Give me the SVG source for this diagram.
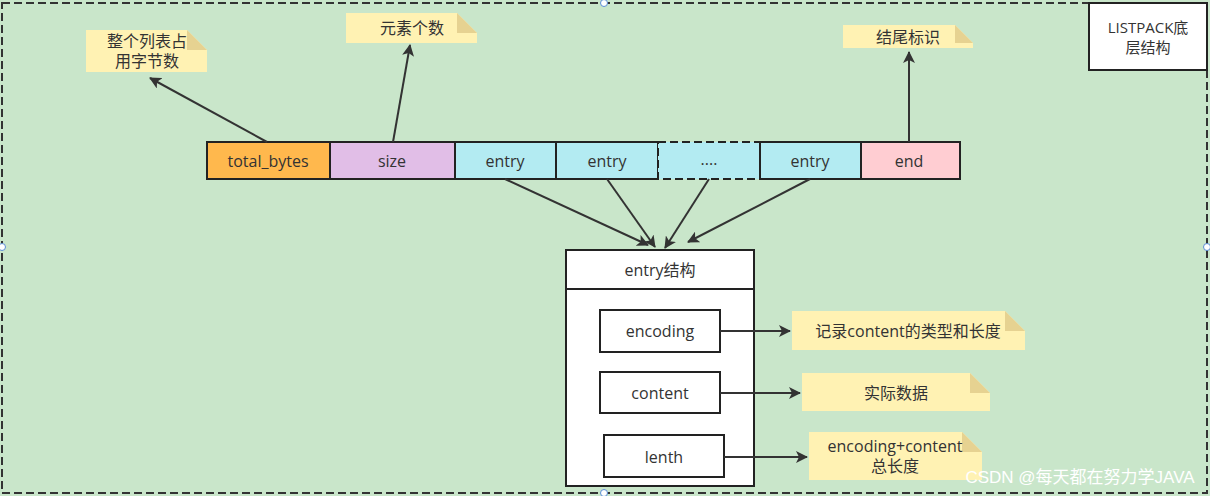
<svg xmlns="http://www.w3.org/2000/svg" width="1210" height="496" viewBox="0 0 1210 496">
<defs>
<marker id="ah" markerWidth="12" markerHeight="12" refX="11" refY="6" orient="auto" markerUnits="userSpaceOnUse"><path d="M0,0 L12,6 L0,12 L3,6 Z" fill="#333"/></marker>
<style>
text{font-family:"Open Sans","Noto Sans CJK SC",sans-serif;font-size:16px;fill:#333;text-anchor:middle;dominant-baseline:central}
.cell{stroke:#222;stroke-width:2}
.note{fill:#FFF2B3}
.fold{fill:#E6D291}
.box{fill:#fff;stroke:#222;stroke-width:2}
.ln{stroke:#333;stroke-width:2;fill:none;marker-end:url(#ah)}
.h{fill:#fff;stroke:#5B8DD6;stroke-width:1}
</style>
</defs>
<rect x="0" y="0" width="1210" height="496" fill="#C9E6CA"/>
<rect x="2" y="3" width="1205" height="490" fill="none" stroke="#333" stroke-width="2" stroke-dasharray="8,4"/>
<circle class="h" cx="604" cy="3" r="3.5"/><circle class="h" cx="2" cy="247" r="3.5"/><circle class="h" cx="1207" cy="247" r="3.5"/><circle class="h" cx="604" cy="493" r="3.5"/>
<g id="title"><rect x="1089" y="3" width="118" height="67" fill="#fff" stroke="#222" stroke-width="2"/><text x="1148" y="27" style="font-size:15px">LISTPACK底</text><text x="1148" y="47" style="font-size:15px">层结构</text></g>
<g id="note1"><path class="note" d="M86,30 H187 L207,50 V72 H86 Z"/><path class="fold" d="M187,30 L207,50 H187 Z"/><text x="147" y="41">整个列表占</text><text x="147" y="61">用字节数</text></g>
<g id="note2"><path class="note" d="M346,13 H457 L477,33 V43 H346 Z"/><path class="fold" d="M457,13 L477,33 H457 Z"/><text x="412" y="28">元素个数</text></g>
<g id="note3"><path class="note" d="M843,25 H955 L973,43 V48 H843 Z"/><path class="fold" d="M955,25 L973,43 H955 Z"/><text x="908" y="37">结尾标识</text></g>
<g id="total_bytes"><rect class="cell" x="207" y="142" width="123" height="37" fill="#FFB84D"/><text x="268" y="161">total_bytes</text></g>
<g id="size"><rect class="cell" x="330" y="142" width="125" height="37" fill="#E1BEE7"/><text x="392" y="161">size</text></g>
<g id="entry1"><rect class="cell" x="455" y="142" width="101" height="37" fill="#B3EBF2"/><text x="505" y="161">entry</text></g>
<g id="entry2"><rect class="cell" x="556" y="142" width="102" height="37" fill="#B3EBF2"/><text x="607" y="161">entry</text></g>
<g id="dots"><rect class="cell" x="658" y="142" width="102" height="37" fill="#B3EBF2" stroke-dasharray="8,4"/><text x="709" y="159">....</text></g>
<g id="entry3"><rect class="cell" x="760" y="142" width="101" height="37" fill="#B3EBF2"/><text x="810" y="161">entry</text></g>
<g id="end"><rect class="cell" x="861" y="142" width="99" height="37" fill="#FFCDD2"/><text x="909" y="161">end</text></g>
<g id="entry_struct"><rect class="box" x="566" y="250" width="188" height="236"/><line x1="566" y1="289" x2="754" y2="289" stroke="#222" stroke-width="2"/><text x="660" y="270">entry结构</text></g>
<g id="encoding"><rect class="box" x="600" y="310" width="120" height="42"/><text x="660" y="331">encoding</text></g>
<g id="content"><rect class="box" x="600" y="372" width="120" height="41"/><text x="660" y="393">content</text></g>
<g id="lenth"><rect class="box" x="604" y="435" width="120" height="42"/><text x="664" y="457">lenth</text></g>
<g id="note4"><path class="note" d="M792,311 H1005 L1025,331 V350 H792 Z"/><path class="fold" d="M1005,311 L1025,331 H1005 Z"/><text x="908" y="331">记录content的类型和长度</text></g>
<g id="note5"><path class="note" d="M802,373 H970 L990,393 V411 H802 Z"/><path class="fold" d="M970,373 L990,393 H970 Z"/><text x="896" y="393">实际数据</text></g>
<g id="note6"><path class="note" d="M809,432 H962 L982,452 V480 H809 Z"/><path class="fold" d="M962,432 L982,452 H962 Z"/><text x="895" y="446">encoding+content</text><text x="895" y="466">总长度</text></g>
<g id="connectors">
<line class="ln" x1="267" y1="142" x2="150" y2="78"/>
<line class="ln" x1="393" y1="142" x2="410" y2="45"/>
<line class="ln" x1="909" y1="142" x2="909" y2="52"/>
<line class="ln" x1="505" y1="179" x2="648" y2="245"/>
<line class="ln" x1="607" y1="179" x2="655" y2="247"/>
<line class="ln" x1="709" y1="179" x2="665" y2="248"/>
<line class="ln" x1="810" y1="179" x2="688" y2="242"/>
<line class="ln" x1="720" y1="331" x2="790" y2="331"/>
<line class="ln" x1="720" y1="393" x2="800" y2="393"/>
<line class="ln" x1="724" y1="457" x2="807" y2="457"/>
</g>
<text x="1080" y="477" style="fill:#fff;font-size:17px;font-family:'Liberation Sans','Noto Sans CJK SC',sans-serif">CSDN @每天都在努力学JAVA</text>
</svg>
